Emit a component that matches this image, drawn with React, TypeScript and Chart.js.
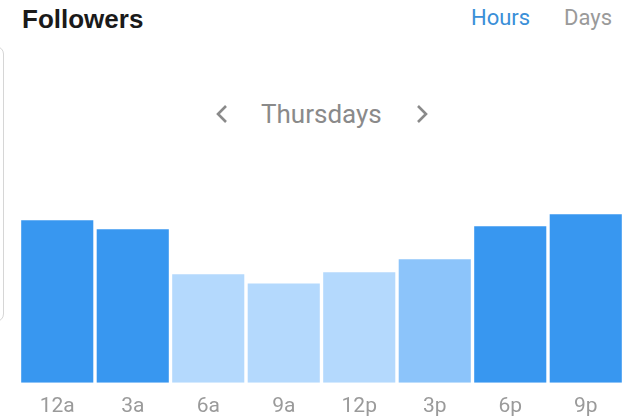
import React, { useEffect, useRef } from "react";
import { Chart, registerables } from "chart.js";

Chart.register(...registerables);

const categories = ["12a", "3a", "6a", "9a", "12p", "3p", "6p", "9p"];
const followers = [162, 153, 108, 99, 110, 123, 156, 168];
const barColors = ["#3897f0", "#3897f0", "#b4d9fd", "#b4d9fd", "#b4d9fd", "#8cc4fa", "#3897f0", "#3897f0"];
const yMax = 200;

export default function App() {
  const ref = useRef<HTMLCanvasElement>(null);

  useEffect(() => {
    document.body.style.margin = "0";
    const chart = new Chart(ref.current!, {
      type: "bar",
      data: {
        labels: categories,
        datasets: [
          {
            data: followers,
            backgroundColor: barColors,
            borderWidth: 0,
            barPercentage: 0.955,
            categoryPercentage: 1,
          },
        ],
      },
      options: {
        animation: false,
        responsive: false,
        maintainAspectRatio: false,
        layout: { padding: { left: 19.5, right: 16.5, top: 182, bottom: 18 } },
        plugins: { legend: { display: false }, tooltip: { enabled: false } },
        scales: {
          x: {
            grid: { display: false },
            border: { display: false },
            ticks: {
              color: "#9a9a9a",
              padding: 3,
              font: { family: "Roboto", size: 21 },
            },
          },
          y: { display: false, min: 0, max: yMax },
        },
      },
    });
    return () => chart.destroy();
  }, []);

  const chevron = (left: number, dir: "l" | "r") => (
    <svg
      style={{ position: "absolute", left, top: 104, width: 14, height: 20 }}
      viewBox="0 0 14 20"
    >
      <polyline
        points={dir === "l" ? "11,2 3,10 11,18" : "3,2 11,10 3,18"}
        fill="none"
        stroke="#8a8a8a"
        strokeWidth={2.6}
      />
    </svg>
  );

  return (
    <div style={{ position: "relative", width: 640, height: 420, background: "#fff", overflow: "hidden" }}>
      <div
        style={{
          position: "absolute",
          left: -20,
          top: 46,
          width: 22,
          height: 274,
          border: "1.5px solid #d6d6d6",
          borderRadius: 8,
        }}
      />
      <span
        style={{
          position: "absolute",
          left: 22,
          top: 6,
          fontFamily: "Liberation Sans, Arial, sans-serif",
          fontWeight: 700,
          fontSize: 26,
          lineHeight: 1,
          color: "#1a1a1a",
          whiteSpace: "nowrap",
        }}
      >
        Followers
      </span>
      <span
        style={{
          position: "absolute",
          left: 471,
          top: 7,
          fontFamily: "Roboto",
          fontSize: 22,
          lineHeight: 1,
          color: "#3a8fd8",
          whiteSpace: "nowrap",
        }}
      >
        Hours
      </span>
      <span
        style={{
          position: "absolute",
          left: 564,
          top: 7,
          fontFamily: "Roboto",
          fontSize: 22,
          lineHeight: 1,
          color: "#9a9a9a",
          whiteSpace: "nowrap",
        }}
      >
        Days
      </span>
      {chevron(215, "l")}
      <span
        style={{
          position: "absolute",
          left: 261,
          top: 101,
          fontFamily: "Roboto",
          fontSize: 26,
          lineHeight: 1,
          color: "#8a8a8a",
          whiteSpace: "nowrap",
        }}
      >
        Thursdays
      </span>
      {chevron(415, "r")}
      <canvas
        ref={ref}
        width={640}
        height={440}
        style={{ position: "absolute", left: 0, top: 0, width: 640, height: 440 }}
      />
    </div>
  );
}
